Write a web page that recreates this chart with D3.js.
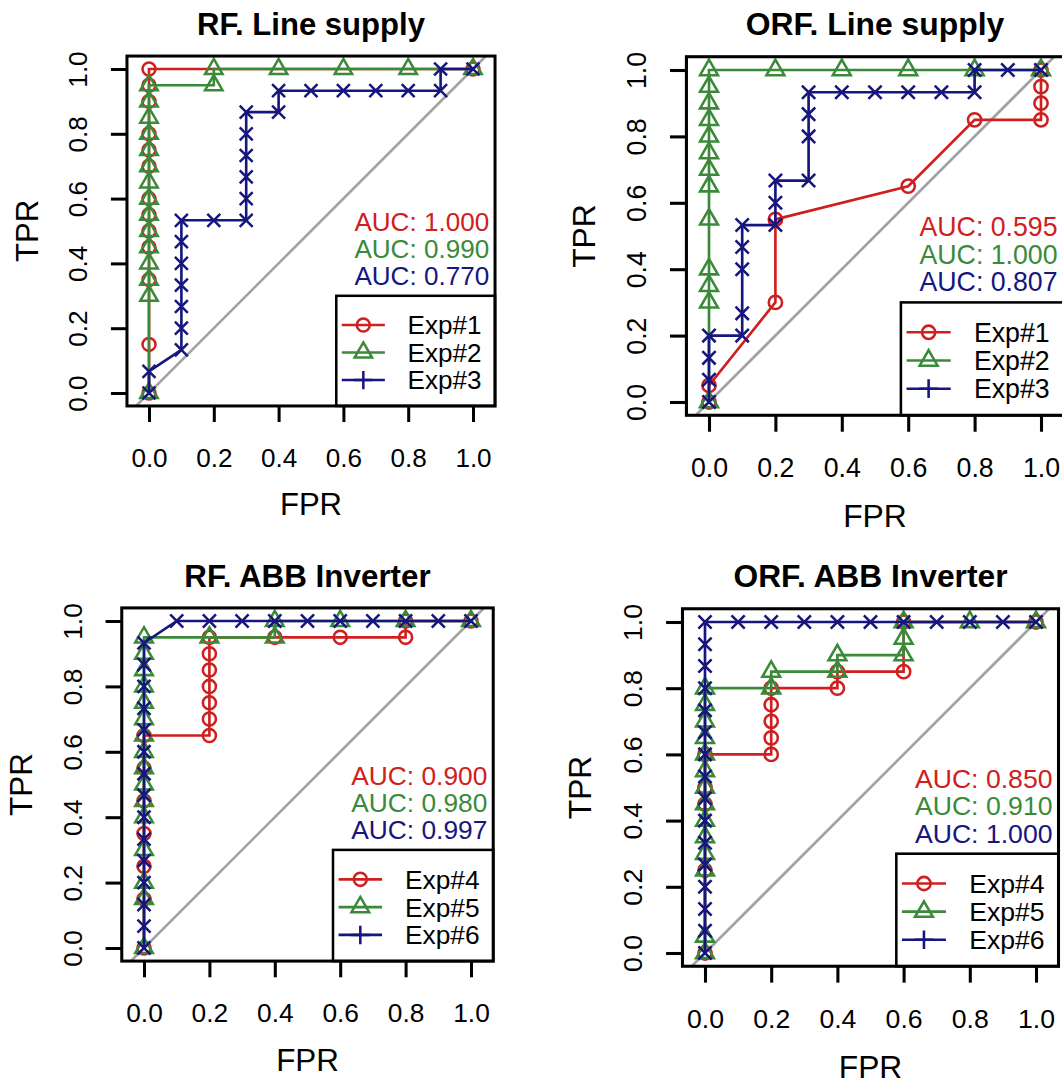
<!DOCTYPE html>
<html>
<head>
<meta charset="utf-8">
<script src="https://cdn.jsdelivr.net/npm/d3@7"></script>
<style>
  body { margin: 0; background: #fff; }
  svg { display: block; }
  text { font-family: "Liberation Sans", Arial, Helvetica, sans-serif; }
</style>
</head>
<body>
<svg id="chart" width="1062" height="1083"></svg>
<script>
// ---------- data ----------
const titles = ["RF. Line supply", "ORF. Line supply", "RF. ABB Inverter", "ORF. ABB Inverter"];
const ticks = [0, 0.2, 0.4, 0.6, 0.8, 1.0];
const tickLabels = ["0.0", "0.2", "0.4", "0.6", "0.8", "1.0"];
const lineSupplyNames = ["Exp#1", "Exp#2", "Exp#3"];
const inverterNames = ["Exp#4", "Exp#5", "Exp#6"];
const aucRfLine = ["AUC: 1.000", "AUC: 0.990", "AUC: 0.770"];
const aucOrfLine = ["AUC: 0.595", "AUC: 1.000", "AUC: 0.807"];
const aucRfAbb = ["AUC: 0.900", "AUC: 0.980", "AUC: 0.997"];
const aucOrfAbb = ["AUC: 0.850", "AUC: 0.910", "AUC: 1.000"];

// RF. Line supply
const rfLineFpr1 = [0, 0, 0, 0, 0, 0, 0, 0, 0, 0, 0, 0, 0, 1];
const rfLineTpr1 = [0, 0.15, 0.35, 0.45, 0.5, 0.55, 0.6, 0.7, 0.75, 0.8, 0.9, 0.95, 1, 1];
const rfLineFpr2 = [0, 0, 0, 0, 0, 0, 0, 0, 0, 0, 0, 0, 0, 0, 0, 0.2, 0.2, 0.4, 0.6, 0.8, 1];
const rfLineTpr2 = [0, 0.3, 0.35, 0.4, 0.45, 0.5, 0.55, 0.6, 0.65, 0.7, 0.75, 0.8, 0.85, 0.9, 0.95, 0.95, 1, 1, 1, 1, 1];
const rfLineFpr3 = [0, 0, 0.1, 0.1, 0.1, 0.1, 0.1, 0.1, 0.1, 0.2, 0.3, 0.3, 0.3, 0.3, 0.3, 0.3, 0.4, 0.4, 0.5, 0.6, 0.7, 0.8, 0.9, 0.9, 1];
const rfLineTpr3 = [0, 0.067, 0.133, 0.2, 0.267, 0.333, 0.4, 0.467, 0.533, 0.533, 0.533, 0.6, 0.667, 0.733, 0.8, 0.867, 0.867, 0.933, 0.933, 0.933, 0.933, 0.933, 0.933, 1, 1];

// ORF. Line supply
const orfLineFpr1 = [0, 0, 0.2, 0.2, 0.6, 0.8, 1, 1, 1, 1];
const orfLineTpr1 = [0, 0.05, 0.3, 0.55, 0.65, 0.85, 0.85, 0.9, 0.95, 1];
const orfLineFpr2 = [0, 0, 0, 0, 0, 0, 0, 0, 0, 0, 0, 0, 0, 0.2, 0.4, 0.6, 0.8, 1];
const orfLineTpr2 = [0, 0.3, 0.35, 0.4, 0.55, 0.65, 0.7, 0.75, 0.8, 0.85, 0.9, 0.95, 1, 1, 1, 1, 1, 1];
const orfLineFpr3 = [0, 0, 0, 0, 0.1, 0.1, 0.1, 0.1, 0.1, 0.2, 0.2, 0.2, 0.3, 0.3, 0.3, 0.3, 0.4, 0.5, 0.6, 0.7, 0.8, 0.8, 0.9, 1];
const orfLineTpr3 = [0, 0.067, 0.133, 0.2, 0.2, 0.267, 0.4, 0.467, 0.533, 0.533, 0.6, 0.667, 0.667, 0.8, 0.867, 0.933, 0.933, 0.933, 0.933, 0.933, 0.933, 1, 1, 1];

// RF. ABB Inverter
const rfAbbFpr4 = [0, 0, 0, 0, 0, 0, 0, 0.2, 0.2, 0.2, 0.2, 0.2, 0.2, 0.2, 0.4, 0.6, 0.8, 0.8, 1];
const rfAbbTpr4 = [0, 0.15, 0.25, 0.35, 0.45, 0.55, 0.65, 0.65, 0.7, 0.75, 0.8, 0.85, 0.9, 0.95, 0.95, 0.95, 0.95, 1, 1];
const rfAbbFpr5 = [0, 0, 0, 0, 0, 0, 0, 0, 0, 0, 0, 0, 0, 0, 0, 0, 0.2, 0.4, 0.4, 0.6, 0.8, 1];
const rfAbbTpr5 = [0, 0.15, 0.2, 0.3, 0.4, 0.45, 0.5, 0.55, 0.6, 0.65, 0.7, 0.75, 0.8, 0.85, 0.9, 0.95, 0.95, 0.95, 1, 1, 1, 1];
const rfAbbFpr6 = [0, 0, 0, 0, 0, 0, 0, 0, 0, 0, 0, 0, 0, 0, 0, 0.1, 0.2, 0.3, 0.4, 0.5, 0.6, 0.7, 0.8, 0.9, 1];
const rfAbbTpr6 = [0, 0.067, 0.133, 0.2, 0.267, 0.333, 0.4, 0.467, 0.533, 0.6, 0.667, 0.733, 0.8, 0.867, 0.933, 1, 1, 1, 1, 1, 1, 1, 1, 1, 1];

// ORF. ABB Inverter
const orfAbbFpr4 = [0, 0, 0, 0, 0, 0.2, 0.2, 0.2, 0.2, 0.2, 0.4, 0.4, 0.6, 0.6, 1];
const orfAbbTpr4 = [0, 0.25, 0.45, 0.5, 0.6, 0.6, 0.65, 0.7, 0.75, 0.8, 0.8, 0.85, 0.85, 1, 1];
const orfAbbFpr5 = [0, 0, 0, 0, 0, 0, 0, 0, 0, 0, 0, 0, 0, 0, 0.2, 0.2, 0.4, 0.4, 0.6, 0.6, 0.6, 0.8, 1];
const orfAbbTpr5 = [0, 0.05, 0.25, 0.3, 0.35, 0.4, 0.45, 0.5, 0.55, 0.6, 0.65, 0.7, 0.75, 0.8, 0.8, 0.85, 0.85, 0.9, 0.9, 0.95, 1, 1, 1];
const orfAbbFpr6 = [0, 0, 0, 0, 0, 0, 0, 0, 0, 0, 0, 0, 0, 0, 0, 0, 0.1, 0.2, 0.3, 0.4, 0.5, 0.6, 0.7, 0.8, 0.9, 1];
const orfAbbTpr6 = [0, 0.067, 0.133, 0.2, 0.267, 0.333, 0.4, 0.467, 0.533, 0.6, 0.667, 0.733, 0.8, 0.867, 0.933, 1, 1, 1, 1, 1, 1, 1, 1, 1, 1, 1];

// ---------- styling / layout ----------
const colors = ["#cf2020", "#3a8a3a", "#16167e"];
const plotShapes = ["circle", "triangle", "cross"];
const legendShapes = ["circle", "triangle", "plus"];

const panels = [
  { x0: 149, y0: 393, k: 324, title: titles[0], names: lineSupplyNames, auc: aucRfLine,
    series: [[rfLineFpr1, rfLineTpr1], [rfLineFpr2, rfLineTpr2], [rfLineFpr3, rfLineTpr3]] },
  { x0: 709, y0: 402, k: 332, title: titles[1], names: lineSupplyNames, auc: aucOrfLine,
    series: [[orfLineFpr1, orfLineTpr1], [orfLineFpr2, orfLineTpr2], [orfLineFpr3, orfLineTpr3]] },
  { x0: 144, y0: 948, k: 327, title: titles[2], names: inverterNames, auc: aucRfAbb,
    series: [[rfAbbFpr4, rfAbbTpr4], [rfAbbFpr5, rfAbbTpr5], [rfAbbFpr6, rfAbbTpr6]] },
  { x0: 705, y0: 953, k: 331, title: titles[3], names: inverterNames, auc: aucOrfAbb,
    series: [[orfAbbFpr4, orfAbbTpr4], [orfAbbFpr5, orfAbbTpr5], [orfAbbFpr6, orfAbbTpr6]] }
];

// R-style plotting symbols
function symbolPath(type, r) {
  if (type === "circle") {
    return `M${r},0A${r},${r} 0 1,1 ${-r},0A${r},${r} 0 1,1 ${r},0Z`;
  }
  if (type === "triangle") {
    const up = 1.555 * r, dn = 0.778 * r, hw = 1.347 * r;
    return `M0,${-up}L${hw},${dn}L${-hw},${dn}Z`;
  }
  if (type === "cross") {
    return `M${-r},${-r}L${r},${r}M${-r},${r}L${r},${-r}`;
  }
  const p = 1.414 * r;
  return `M${-p},0L${p},0M0,${-p}L0,${p}`;
}

const svg = d3.select("#chart");

panels.forEach((p, pi) => {
  const s = p.k / 323;
  const x = d3.scaleLinear().domain([0, 1]).range([p.x0, p.x0 + p.k]);
  const y = d3.scaleLinear().domain([0, 1]).range([p.y0, p.y0 - p.k]);
  const left = x(-0.068), right = x(1.068), top = y(1.04), bottom = y(-0.04);
  const r = 0.02 * p.k;

  const g = svg.append("g");
  g.append("clipPath").attr("id", "clip" + pi)
    .append("rect")
    .attr("x", left).attr("y", top)
    .attr("width", right - left).attr("height", bottom - top);

  const plot = g.append("g").attr("clip-path", `url(#clip${pi})`);

  // diagonal reference line
  plot.append("line")
    .attr("x1", x(-0.2)).attr("y1", y(-0.2))
    .attr("x2", x(1.2)).attr("y2", y(1.2))
    .attr("stroke", "#a2a2a2").attr("stroke-width", 2.6 * s);

  // ROC curves, lines then symbols
  p.series.forEach(([fpr, tpr], si) => {
    const pts = fpr.map((f, i) => [x(f), y(tpr[i])]);
    plot.append("path")
      .attr("d", d3.line()(pts))
      .attr("fill", "none")
      .attr("stroke", colors[si])
      .attr("stroke-width", 2.6 * s);
    plot.selectAll(null)
      .data(pts)
      .join("path")
      .attr("transform", d => `translate(${d[0]},${d[1]})`)
      .attr("d", symbolPath(plotShapes[si], r))
      .attr("fill", "none")
      .attr("stroke", colors[si])
      .attr("stroke-width", 2.5 * s);
  });

  // axes
  const ax = g.append("g")
    .attr("transform", `translate(0,${bottom})`)
    .call(d3.axisBottom(x).tickValues(ticks).tickFormat((d, i) => tickLabels[i])
      .tickSize(16 * s).tickSizeOuter(0).tickPadding(26 * s));
  ax.select(".domain").remove();
  ax.selectAll("line").attr("stroke", "#000").attr("stroke-width", 3 * s);
  ax.selectAll("text")
    .attr("font-size", 26 * s)
    .attr("font-family", "Liberation Sans, Arial, sans-serif")
    .attr("fill", "#000");

  const ay = g.append("g")
    .attr("transform", `translate(${left},0)`)
    .call(d3.axisLeft(y).tickValues(ticks).tickFormat((d, i) => tickLabels[i])
      .tickSize(16 * s).tickSizeOuter(0));
  ay.select(".domain").remove();
  ay.selectAll("line").attr("stroke", "#000").attr("stroke-width", 3 * s);
  ay.selectAll("text")
    .attr("x", 0)
    .attr("dy", "0.36em")
    .attr("text-anchor", "middle")
    .attr("transform", `translate(${-49 * s},0) rotate(-90)`)
    .attr("font-size", 26 * s)
    .attr("font-family", "Liberation Sans, Arial, sans-serif")
    .attr("fill", "#000");

  // titles
  g.append("text")
    .attr("x", (left + right) / 2).attr("y", top - 21 * s)
    .attr("text-anchor", "middle")
    .attr("font-size", 31 * s).attr("font-weight", "bold")
    .text(p.title);
  g.append("text")
    .attr("x", (left + right) / 2).attr("y", bottom + 109 * s)
    .attr("text-anchor", "middle")
    .attr("font-size", 31 * s)
    .text("FPR");
  g.append("text")
    .attr("transform", `translate(${left - 100 * s},${(top + bottom) / 2}) rotate(-90)`)
    .attr("dy", "0.36em")
    .attr("text-anchor", "middle")
    .attr("font-size", 31 * s)
    .text("TPR");

  // AUC labels
  const aucY = [0.5, 0.417, 0.333];
  p.auc.forEach((t, i) => {
    g.append("text")
      .attr("x", x(1.05)).attr("y", y(aucY[i]))
      .attr("text-anchor", "end")
      .attr("font-size", 26 * s)
      .attr("fill", colors[i])
      .text(t);
  });

  // legend
  const legL = x(0.578), legT = y(0.30);
  const lg = g.append("g");
  lg.append("rect")
    .attr("x", legL).attr("y", legT)
    .attr("width", right - legL).attr("height", bottom - legT)
    .attr("fill", "#fff").attr("stroke", "#000").attr("stroke-width", 2.5 * s);
  const rows = [0.09, 0.175, 0.26];
  p.names.forEach((name, i) => {
    const ry = legT + rows[i] * p.k;
    lg.append("line")
      .attr("x1", legL + 0.017 * p.k).attr("x2", legL + 0.15 * p.k)
      .attr("y1", ry).attr("y2", ry)
      .attr("stroke", colors[i]).attr("stroke-width", 2.6 * s);
    lg.append("path")
      .attr("transform", `translate(${legL + 0.0835 * p.k},${ry})`)
      .attr("d", symbolPath(legendShapes[i], r))
      .attr("fill", "none").attr("stroke", colors[i]).attr("stroke-width", 2.5 * s);
    lg.append("text")
      .attr("x", legL + 0.22 * p.k).attr("y", ry)
      .attr("dy", "0.36em")
      .attr("font-size", 26 * s)
      .text(name);
  });

  // plot frame
  g.append("rect")
    .attr("x", left).attr("y", top)
    .attr("width", right - left).attr("height", bottom - top)
    .attr("fill", "none").attr("stroke", "#000").attr("stroke-width", 3 * s);
});
</script>
</body>
</html>
